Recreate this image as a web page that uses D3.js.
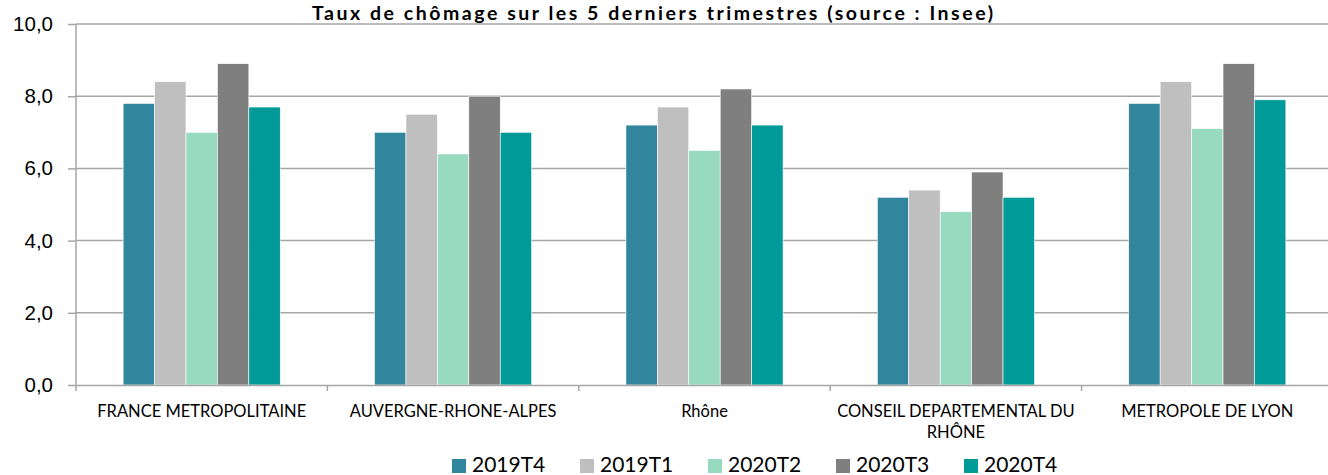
<!DOCTYPE html>
<html>
<head>
<meta charset="utf-8">
<style>
  body { margin: 0; background: #fff; }
  svg { display: block; font-family: Lato, "Open Sans", sans-serif; }
</style>
</head>
<body>
<div id="chart"></div>
<script src="https://d3js.org/d3.v7.min.js"></script>
<script>
// data
var categories = ["FRANCE METROPOLITAINE", "AUVERGNE-RHONE-ALPES", "Rhône", "CONSEIL DEPARTEMENTAL DU RHÔNE", "METROPOLE DE LYON"];
var seriesNames = ["2019T4", "2019T1", "2020T2", "2020T3", "2020T4"];
var s2019T4 = [7.8, 7.0, 7.2, 5.2, 7.8];
var s2019T1 = [8.4, 7.5, 7.7, 5.4, 8.4];
var s2020T2 = [7.0, 6.4, 6.5, 4.8, 7.1];
var s2020T3 = [8.9, 8.0, 8.2, 5.9, 8.9];
var s2020T4 = [7.7, 7.0, 7.2, 5.2, 7.9];
var yTicks = [0, 2, 4, 6, 8, 10];
var colors = ["#31859C", "#BFBFBF", "#98DAC0", "#7F7F7F", "#009A99"];

var allSeries = [s2019T4, s2019T1, s2020T2, s2020T3, s2020T4];
var data = categories.map(function(c, i) {
  var row = {cat: c};
  seriesNames.forEach(function(s, j) { row[s] = allSeries[j][i]; });
  return row;
});

var W = 1328, H = 475;
var margin = {top: 24, right: -5, bottom: 90, left: 76};
var width = W - margin.left - margin.right;
var height = H - margin.top - margin.bottom;

var svg = d3.select("#chart").append("svg")
    .attr("width", W)
    .attr("height", H);

var g = svg.append("g").attr("transform", "translate(" + margin.left + "," + margin.top + ")");

var x0 = d3.scaleBand().domain(categories).range([0, width]).paddingInner(0).paddingOuter(0);
var x1 = d3.scaleBand().domain(seriesNames).range([0, x0.bandwidth()]).paddingInner(0).paddingOuter(1.5);
var y = d3.scaleLinear().domain([0, 10]).range([height, 0]);
var z = d3.scaleOrdinal().domain(seriesNames).range(colors);

var fmt = function(d) { return d3.format(".1f")(d).replace(".", ","); };

// gridlines
g.append("g")
  .selectAll("line")
  .data(yTicks.filter(function(d) { return d > 0; }))
  .enter().append("line")
    .attr("x1", 0)
    .attr("x2", width)
    .attr("y1", function(d) { return y(d); })
    .attr("y2", function(d) { return y(d); })
    .attr("stroke", "#A6A6A6")
    .attr("stroke-width", 1.5);

// bars
g.append("g")
  .selectAll("g")
  .data(data)
  .enter().append("g")
    .attr("transform", function(d) { return "translate(" + x0(d.cat) + ",0)"; })
  .selectAll("rect")
  .data(function(d) { return seriesNames.map(function(s) { return {key: s, value: d[s]}; }); })
  .enter().append("rect")
    .attr("x", function(d) { return x1(d.key); })
    .attr("y", function(d) { return y(d.value); })
    .attr("width", x1.bandwidth())
    .attr("height", function(d) { return y(0) - y(d.value); })
    .attr("fill", function(d) { return z(d.key); })
    .attr("stroke", "#fff")
    .attr("stroke-width", 0.6);

// y axis
var yAxis = g.append("g")
    .call(d3.axisLeft(y).tickValues(yTicks).tickFormat(fmt).tickSize(8).tickPadding(15));
yAxis.select(".domain").attr("stroke", "#A6A6A6").attr("stroke-width", 1.5).attr("d", "M0," + height + "V0");
yAxis.selectAll(".tick line").attr("stroke", "#A6A6A6").attr("stroke-width", 1.5);
yAxis.selectAll(".tick text").attr("fill", "#000").style("font-size", "20.5px");

// x axis
var xAxis = g.append("g")
    .attr("transform", "translate(0," + height + ")")
    .call(d3.axisBottom(x0).tickSize(0).tickFormat(""));
xAxis.select(".domain").attr("stroke", "#A6A6A6").attr("stroke-width", 1.5);
xAxis.selectAll(".tick").remove();

// category boundary ticks
g.append("g")
  .selectAll("line")
  .data(categories)
  .enter().append("line")
    .attr("x1", function(d) { return x0(d); })
    .attr("x2", function(d) { return x0(d); })
    .attr("y1", height)
    .attr("y2", height + 6)
    .attr("stroke", "#A6A6A6")
    .attr("stroke-width", 1.5);

// category labels (wrapped)
var wrapWidth = 250;
var labels = g.append("g")
  .selectAll("text")
  .data(categories)
  .enter().append("text")
    .attr("x", function(d) { return x0(d) + x0.bandwidth() / 2; })
    .attr("y", height + 32)
    .attr("text-anchor", "middle")
    .style("font-size", "16.5px")
    .attr("fill", "#000");

labels.each(function(d) {
  var t = d3.select(this);
  var words = d.split(" ");
  var line = [];
  var tspan = t.append("tspan").attr("x", t.attr("x")).attr("dy", 0);
  words.forEach(function(w) {
    line.push(w);
    tspan.text(line.join(" "));
    if (tspan.node().getComputedTextLength() > wrapWidth && line.length > 1) {
      line.pop();
      tspan.text(line.join(" "));
      line = [w];
      tspan = t.append("tspan").attr("x", t.attr("x")).attr("dy", 21).text(w);
    }
  });
});

// title
svg.append("text")
    .attr("x", (312 + 993) / 2)
    .attr("y", 19.5)
    .attr("text-anchor", "middle")
    .style("font-size", "19.5px")
    .style("font-weight", "bold")
    .attr("textLength", 681)
    .attr("lengthAdjust", "spacing")
    .attr("fill", "#000")
    .text("Taux de chômage sur les 5 derniers trimestres (source : Insee)");

// legend
var legend = svg.append("g")
  .selectAll("g")
  .data(seriesNames)
  .enter().append("g")
    .attr("transform", function(d, i) { return "translate(" + (452 + i * 128) + "," + 459 + ")"; });

legend.append("rect")
    .attr("width", 14)
    .attr("height", 14)
    .attr("fill", z);

legend.append("text")
    .attr("x", 20)
    .attr("y", 13)
    .style("font-size", "21px")
    .attr("fill", "#000")
    .text(function(d) { return d; });
</script>
</body>
</html>
